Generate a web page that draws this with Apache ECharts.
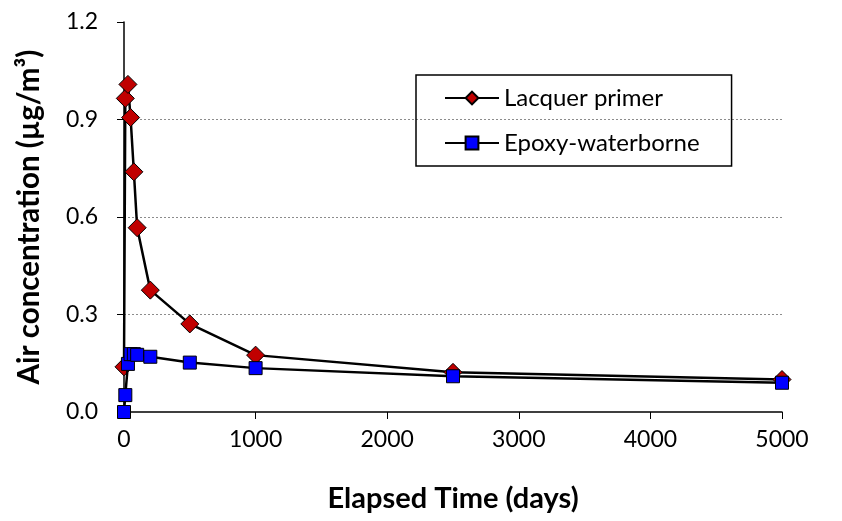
<!DOCTYPE html>
<html>
<head>
<meta charset="utf-8">
<script src="https://cdn.jsdelivr.net/npm/echarts@6/dist/echarts.min.js"></script>
<style>
  html, body { margin: 0; padding: 0; background: #fff; }
  #chart { width: 842px; height: 521px; }
</style>
</head>
<body>
<div id="chart"></div>
<script>
// Elapsed time in days for each sampling point
const days = [0, 10, 30, 50, 75, 100, 200, 500, 1000, 2500, 5000];
// Air concentrations in µg/m³
const lacquerPrimer = [0.139, 0.965, 1.008, 0.906, 0.739, 0.567, 0.375, 0.271, 0.175, 0.122, 0.100];
const epoxyWaterborne = [0.000, 0.052, 0.148, 0.178, 0.178, 0.176, 0.170, 0.152, 0.135, 0.110, 0.090];
const seriesNames = ['Lacquer primer', 'Epoxy-waterborne'];
const xTitle = 'Elapsed Time (days)';
const yTitle = 'Air concentration (µg/m³)';

const pairs = (xs, ys) => xs.map((x, i) => [x, ys[i]]);
const FONT = 'Lato, "Open Sans", sans-serif';

const chart = echarts.init(document.getElementById('chart'), null, { renderer: 'canvas' });
chart.setOption({
  animation: false,
  backgroundColor: '#ffffff',
  textStyle: { fontFamily: FONT },
  grid: { left: 124, right: 60, top: 22, bottom: 109, containLabel: false },
  legend: {
    orient: 'vertical',
    left: 416,
    top: 75,
    padding: [11, 32, 11, 28],
    itemGap: 21,
    itemWidth: 54,
    itemHeight: 16,
    borderColor: '#000',
    borderWidth: 1.5,
    textStyle: { fontFamily: FONT, fontSize: 24, color: '#000' },
    data: seriesNames
  },
  xAxis: {
    type: 'value',
    min: 0,
    max: 5000,
    interval: 1000,
    name: xTitle,
    nameLocation: 'middle',
    nameGap: 72,
    nameTextStyle: { fontFamily: FONT, fontSize: 29, fontWeight: 'bold', color: '#000' },
    axisLine: { show: true, onZero: false, lineStyle: { color: '#000', width: 1.5 } },
    axisTick: { show: true, inside: false, length: 7, lineStyle: { color: '#000' } },
    axisLabel: { fontFamily: FONT, fontSize: 23, color: '#000', margin: 16, formatter: v => String(v) },
    splitLine: { show: false }
  },
  yAxis: {
    type: 'value',
    min: 0,
    max: 1.2,
    interval: 0.3,
    name: yTitle,
    nameLocation: 'middle',
    nameGap: 80,
    nameTextStyle: { fontFamily: FONT, fontSize: 29.5, fontWeight: 'bold', color: '#000' },
    axisLine: { show: true, lineStyle: { color: '#000', width: 1.5 } },
    axisTick: { show: true, inside: false, length: 7, lineStyle: { color: '#000' } },
    axisLabel: {
      fontFamily: FONT, fontSize: 23, color: '#000', margin: 26,
      formatter: v => v.toFixed(1)
    },
    splitLine: {
      show: true,
      showMinLine: false,
      showMaxLine: false,
      lineStyle: { color: '#8c8c8c', type: [2, 2], width: 1 }
    }
  },
  series: [
    {
      name: seriesNames[0],
      type: 'line',
      data: pairs(days, lacquerPrimer),
      symbol: 'diamond',
      symbolSize: 18,
      z: 2,
      lineStyle: { color: '#000', width: 2.5 },
      itemStyle: { color: '#C00000', borderColor: '#000', borderWidth: 1 }
    },
    {
      name: seriesNames[1],
      type: 'line',
      data: pairs(days, epoxyWaterborne),
      symbol: 'rect',
      symbolSize: 13,
      z: 3,
      lineStyle: { color: '#000', width: 2.5 },
      itemStyle: { color: '#0000FF', borderColor: '#000', borderWidth: 1 }
    }
  ]
});
</script>
</body>
</html>
